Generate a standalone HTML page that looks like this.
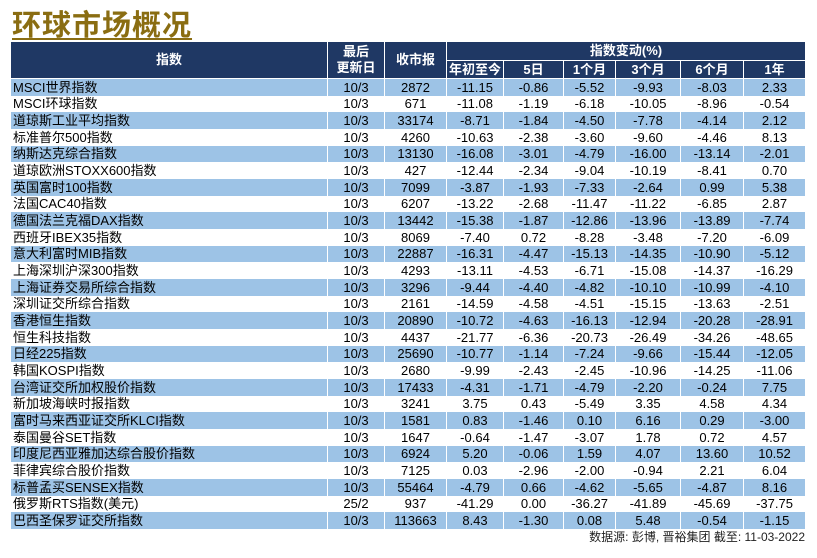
<!DOCTYPE html>
<html><head><meta charset="utf-8">
<style>
body{margin:0;width:817px;height:558px;background:#fff;position:relative;overflow:hidden;font-family:"Liberation Sans","Noto Sans CJK SC",sans-serif;}
#title{position:absolute;left:12px;top:2px;font-size:29px;font-weight:bold;color:#8a6d12;text-decoration:underline;text-decoration-thickness:2px;text-underline-offset:3px;letter-spacing:1px;}
.c{position:absolute;box-sizing:border-box;font-size:13px;line-height:16px;color:#000;text-align:center;white-space:nowrap;overflow:hidden;}
.h{background:#1f3864;color:#fff;font-weight:bold;display:flex;align-items:center;justify-content:center;line-height:16px;}
.b{background:#9dc3e6;}
#foot{position:absolute;right:12px;top:530px;font-size:12px;line-height:15px;color:#222;}
</style></head><body>
<div id="title">环球市场概况</div>
<div id="tbl"></div>
<div id="foot">数据源: 彭博, 晋裕集团 截至: 11-03-2022</div>
<script>
const names=["MSCI世界指数","MSCI环球指数","道琼斯工业平均指数","标准普尔500指数","纳斯达克综合指数","道琼欧洲STOXX600指数","英国富时100指数","法国CAC40指数","德国法兰克福DAX指数","西班牙IBEX35指数","意大利富时MIB指数","上海深圳沪深300指数","上海证券交易所综合指数","深圳证交所综合指数","香港恒生指数","恒生科技指数","日经225指数","韩国KOSPI指数","台湾证交所加权股价指数","新加坡海峡时报指数","富时马来西亚证交所KLCI指数","泰国曼谷SET指数","印度尼西亚雅加达综合股价指数","菲律宾综合股价指数","标普孟买SENSEX指数","俄罗斯RTS指数(美元)","巴西圣保罗证交所指数"];
const dates=["10/3","10/3","10/3","10/3","10/3","10/3","10/3","10/3","10/3","10/3","10/3","10/3","10/3","10/3","10/3","10/3","10/3","10/3","10/3","10/3","10/3","10/3","10/3","10/3","10/3","25/2","10/3"];
const closes=["2872","671","33174","4260","13130","427","7099","6207","13442","8069","22887","4293","3296","2161","20890","4437","25690","2680","17433","3241","1581","1647","6924","7125","55464","937","113663"];
const ytd=["-11.15","-11.08","-8.71","-10.63","-16.08","-12.44","-3.87","-13.22","-15.38","-7.40","-16.31","-13.11","-9.44","-14.59","-10.72","-21.77","-10.77","-9.99","-4.31","3.75","0.83","-0.64","5.20","0.03","-4.79","-41.29","8.43"];
const d5=["-0.86","-1.19","-1.84","-2.38","-3.01","-2.34","-1.93","-2.68","-1.87","0.72","-4.47","-4.53","-4.40","-4.58","-4.63","-6.36","-1.14","-2.43","-1.71","0.43","-1.46","-1.47","-0.06","-2.96","0.66","0.00","-1.30"];
const m1=["-5.52","-6.18","-4.50","-3.60","-4.79","-9.04","-7.33","-11.47","-12.86","-8.28","-15.13","-6.71","-4.82","-4.51","-16.13","-20.73","-7.24","-2.45","-4.79","-5.49","0.10","-3.07","1.59","-2.00","-4.62","-36.27","0.08"];
const m3=["-9.93","-10.05","-7.78","-9.60","-16.00","-10.19","-2.64","-11.22","-13.96","-3.48","-14.35","-15.08","-10.10","-15.15","-12.94","-26.49","-9.66","-10.96","-2.20","3.35","6.16","1.78","4.07","-0.94","-5.65","-41.89","5.48"];
const m6=["-8.03","-8.96","-4.14","-4.46","-13.14","-8.41","0.99","-6.85","-13.89","-7.20","-10.90","-14.37","-10.99","-13.63","-20.28","-34.26","-15.44","-14.25","-0.24","4.58","0.29","0.72","13.60","2.21","-4.87","-45.69","-0.54"];
const y1=["2.33","-0.54","2.12","8.13","-2.01","0.70","5.38","2.87","-7.74","-6.09","-5.12","-16.29","-4.10","-2.51","-28.91","-48.65","-12.05","-11.06","7.75","4.34","-3.00","4.57","10.52","6.04","8.16","-37.75","-1.15"];
const colX=[11,328,385,447,504,564,616,681,744,806];
const cols=[names,dates,closes,ytd,d5,m1,m3,m6,y1];
const colNames=["index-name","last-update","close","ytd","5d","1m","3m","6m","1y"];
const T=document.getElementById('tbl');
function cell(x,y,w,h,txt,cls,name){const d=document.createElement('div');d.className='c '+cls;d.style.left=x+'px';d.style.top=y+'px';d.style.width=w+'px';d.style.height=h+'px';d.innerHTML=txt;


T.appendChild(d);return d;}
const top0=42,hh1=19,hh2=18,rowH=16.67,y0=79;
cell(colX[0],top0,colX[1]-colX[0]-1,36,'指数','h','header-index');
cell(colX[1],top0,colX[2]-colX[1]-1,36,'最后<br>更新日','h','header-last-update');
cell(colX[2],top0,colX[3]-colX[2]-1,36,'收市报','h','header-close');
cell(colX[3],top0,colX[9]-colX[3]-1,hh1-1,'指数变动(%)','h','header-change');
const sub=["年初至今","5日","1个月","3个月","6个月","1年"];
for(let i=0;i<6;i++)cell(colX[3+i],top0+hh1,colX[4+i]-colX[3+i]-1,hh2-1,sub[i],'h','header-'+colNames[3+i]);
for(let r=0;r<names.length;r++){
 const y=Math.round(y0+r*rowH),h=Math.round(y0+(r+1)*rowH)-y;
 for(let c=0;c<9;c++){
  const d=cell(colX[c],y,colX[c+1]-colX[c]-1,h,cols[c][r],r%2==0?'b':'',colNames[c]+'-cell');
  d.style.lineHeight=h+'px';
  if(c==0){d.style.textAlign='left';d.style.paddingLeft='2px';}
 }
}
</script>
</body></html>
